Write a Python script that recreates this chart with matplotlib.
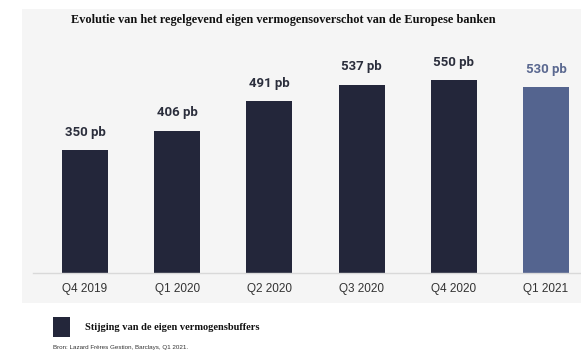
import matplotlib.pyplot as plt
import matplotlib.patches as patches

# Data
kwartalen = ["Q4 2019", "Q1 2020", "Q2 2020", "Q3 2020", "Q4 2020", "Q1 2021"]
waarden = [350, 406, 491, 537, 550, 530]
labels = ["350 pb", "406 pb", "491 pb", "537 pb", "550 pb", "530 pb"]

donker = "#23263a"
blauw = "#54648f"
kleuren = [donker] * 5 + [blauw]
tekstkleuren = ["#2b2e3c"] * 5 + ["#5a6890"]

fig = plt.figure(figsize=(5.81, 3.59), dpi=100)
fig.patch.set_facecolor("white")

# grijs paneel achter de grafiek
paneel = patches.Rectangle((22 / 581, 1 - 303 / 359), 1 - 22 / 581, (303 - 9) / 359,
                           transform=fig.transFigure, facecolor="#f5f5f5",
                           edgecolor="none", zorder=-1)
fig.patches.append(paneel)

ax = fig.add_axes([33 / 581, 1 - 273 / 359, 1 - 33 / 581, (273 - 60) / 359])
ax.set_facecolor("none")
ax.set_zorder(2)

x = list(range(len(kwartalen)))
ax.bar(x, waarden, width=0.5, color=kleuren, zorder=2)
for i in x:
    ax.annotate(labels[i], (i, waarden[i]), xytext=(0, 8), textcoords="offset points",
                ha="center", va="bottom", fontsize=9.5, fontweight="bold",
                family="Roboto", color=tekstkleuren[i])

ax.set_xlim(-0.564, 5.38)
ax.set_ylim(0, 607)
ax.set_xticks(x)
ax.set_xticklabels(kwartalen, family="Liberation Sans", fontsize=8.5, color="#333333")
ax.tick_params(axis="x", length=0, pad=7.5)
ax.set_yticks([])
for s in ["top", "left", "right"]:
    ax.spines[s].set_visible(False)
ax.spines["bottom"].set_color("#d9d9d9")
ax.spines["bottom"].set_linewidth(1)

fig.text(283 / 581, 1 - 20 / 359,
         "Evolutie van het regelgevend eigen vermogensoverschot van de Europese banken",
         ha="center", va="center", family="Liberation Serif", fontweight="bold",
         fontsize=8.8, color="#111111")

# legenda
fig.patches.append(patches.Rectangle((53 / 581, 1 - 337 / 359), 17 / 581, 20 / 359,
                                     transform=fig.transFigure, facecolor=donker,
                                     edgecolor="none"))
fig.text(85 / 581, 1 - 328 / 359, "Stijging van de eigen vermogensbuffers",
         ha="left", va="center", family="Liberation Serif", fontweight="bold",
         fontsize=7.5, color="#111111")
fig.text(53 / 581, 1 - 348 / 359, "Bron: Lazard Frères Gestion, Barclays, Q1 2021.",
         ha="left", va="center", family="Liberation Sans", fontsize=4.5, color="#333333")

fig.savefig("out.png", dpi=100)
